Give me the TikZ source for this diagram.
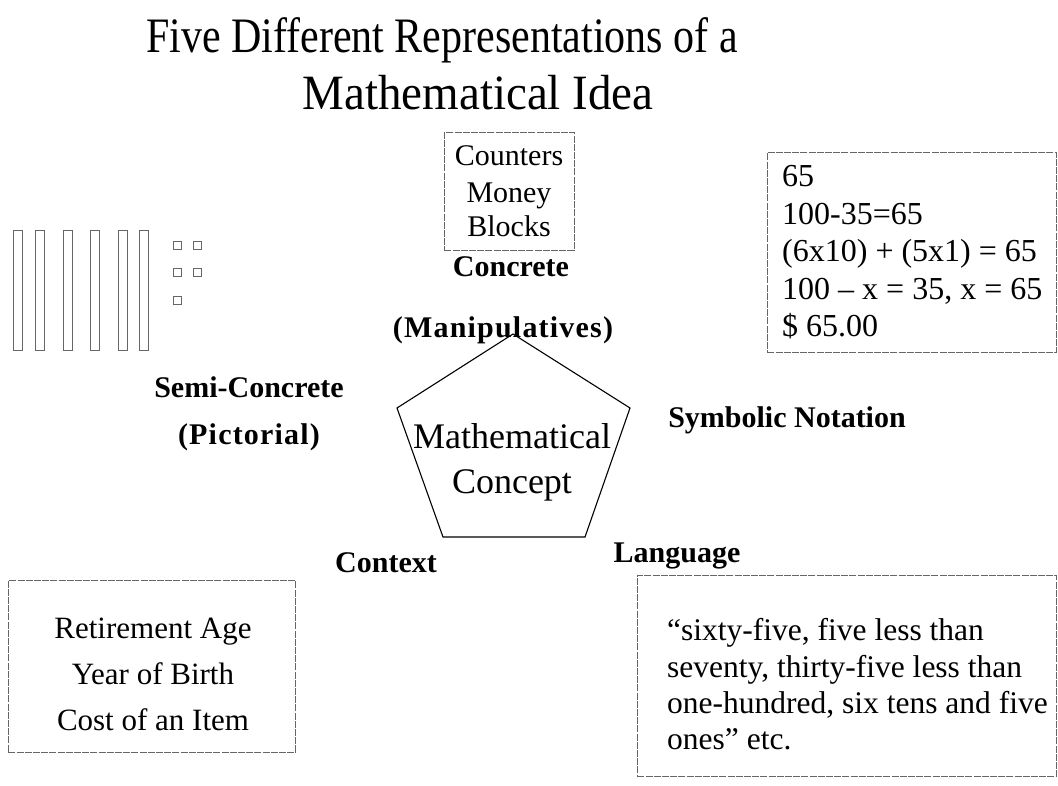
\documentclass[tikz,border=0pt]{standalone}
\usepackage{fontspec}
\setmainfont{Liberation Serif}
\begin{document}
\begin{tikzpicture}[x=1pt,y=-1pt,
  box/.style={draw=black!60, line width=0.7pt, dash pattern=on 7pt off 1.2pt, inner sep=0pt, anchor=north west},
  rod/.style={draw=black!60, line width=0.6pt, inner sep=0pt, anchor=north west, minimum width=9pt, minimum height=120pt},
  unit/.style={draw=black!60, line width=0.6pt, inner sep=0pt, anchor=north west, minimum width=8pt, minimum height=8pt},
  lbl/.style={font=\bfseries\fontsize{30}{36}\selectfont, anchor=base, inner sep=0pt},
  wide/.style={font=\bfseries\fontsize{30}{36}\selectfont\addfontfeature{LetterSpace=4}, anchor=base, inner sep=0pt},
  txt/.style={font=\fontsize{30}{36}\selectfont, anchor=base, inner sep=0pt},
  txtl/.style={font=\fontsize{32}{36}\selectfont, anchor=base west, inner sep=0pt},
  edge/.style={draw=black, line width=1.1pt, line join=miter}]
\useasboundingbox (0,0) rectangle (1058,786);
% title
\node[anchor=base, inner sep=0pt, yscale=1.18, font=\fontsize{42}{50}\selectfont] (t1) at (442,53) {Five Different Representations of a};
\node[anchor=base, inner sep=0pt, yscale=1.05, font=\fontsize{47}{56}\selectfont] (t2) at (478,110) {Mathematical Idea};
% concrete box
\node[box, minimum width=130pt, minimum height=118pt] (cbox) at (444,132) {};
\node[txt] (c1) at (509,166) {Counters};
\node[txt] (c2) at (509,203) {Money};
\node[txt] (c3) at (509,237) {Blocks};
\node[lbl] (conc) at (511,277) {Concrete};
\node[wide] (manip) at (503,338) {(Manipulatives)};
% base ten blocks
\node[rod] (r1) at (13,230) {};
\node[rod] (r2) at (35,230) {};
\node[rod] (r3) at (63,230) {};
\node[rod] (r4) at (90,230) {};
\node[rod] (r5) at (118,230) {};
\node[rod] (r6) at (139,230) {};
\node[unit] (u1) at (173,241) {};
\node[unit] (u2) at (193,241) {};
\node[unit] (u3) at (173,268) {};
\node[unit] (u4) at (193,268) {};
\node[unit] (u5) at (173,296) {};
\node[lbl] (semi) at (249,398) {Semi-Concrete};
\node[wide] (pict) at (249,444) {(Pictorial)};
% symbolic box
\node[box, minimum width=289pt, minimum height=200pt] (sbox) at (767,152) {};
\node[txtl] (s1) at (782,187) {65};
\node[txtl] (s2) at (782,224.5) {100-35=65};
\node[txtl] (s3) at (782,262) {(6x10) + (5x1) = 65};
\node[txtl] (s4) at (782,299.5) {100 – x = 35, x = 65};
\node[txtl] (s5) at (782,337) {\$ 65.00};
\node[lbl] (symb) at (787,427) {Symbolic Notation};
% pentagon
\coordinate (pa) at (513,334);
\coordinate (pb) at (630,408);
\coordinate (pc) at (585,537);
\coordinate (pd) at (443,537);
\coordinate (pe) at (397,408);
\draw[edge] (pa) -- (pb) -- (pc) -- (pd) -- (pe) -- cycle;
\node[txt, font=\fontsize{36}{44}\selectfont] (m1) at (512,448) {Mathematical};
\node[txt, font=\fontsize{36}{44}\selectfont] (m2) at (512,493) {Concept};
% context
\node[lbl] (ctx) at (386,572) {Context};
\node[box, minimum width=287pt, minimum height=172pt] (xbox) at (8,580) {};
\node[txt, font=\fontsize{31}{36}\selectfont] (x1) at (153,638) {Retirement Age};
\node[txt, font=\fontsize{31}{36}\selectfont] (x2) at (153,684) {Year of Birth};
\node[txt, font=\fontsize{31}{36}\selectfont] (x3) at (153,730) {Cost of an Item};
% language
\node[lbl] (lang) at (677,562) {Language};
\node[box, minimum width=419pt, minimum height=201pt] (lbox) at (637,575) {};
\node[txtl, font=\fontsize{31.5}{36}\selectfont] (l1) at (667,640) {“sixty-five, five less than};
\node[txtl, font=\fontsize{31.5}{36}\selectfont] (l2) at (667,677) {seventy, thirty-five less than};
\node[txtl, font=\fontsize{31.5}{36}\selectfont] (l3) at (667,713) {one-hundred, six tens and five};
\node[txtl, font=\fontsize{31.5}{36}\selectfont] (l4) at (667,749) {ones” etc.};
\end{tikzpicture}
\end{document}
